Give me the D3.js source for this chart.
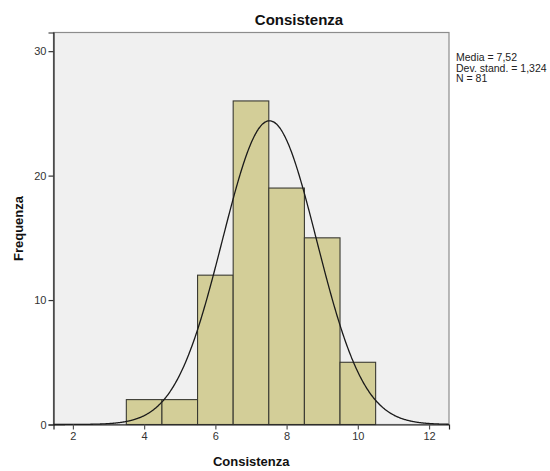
<!DOCTYPE html>
<html>
<head>
<meta charset="utf-8">
<script src="https://cdn.jsdelivr.net/npm/d3@7"></script>
<style>
  html, body { margin: 0; padding: 0; background: #ffffff; }
  svg { display: block; font-family: Arial, "Liberation Sans", sans-serif; }
</style>
</head>
<body>
<svg id="chart" width="550" height="471"></svg>
<script>
// Histogram bins (lower edge, upper edge) and frequencies
const binStarts = [3.5, 4.5, 5.5, 6.5, 7.5, 8.5, 9.5];
const binEnds   = [4.5, 5.5, 6.5, 7.5, 8.5, 9.5, 10.5];
const counts    = [2, 2, 12, 26, 19, 15, 5];

// Summary statistics shown in the side legend
const mean = 7.52;
const sd = 1.324;
const n = 81;

const xTicks = [2, 4, 6, 8, 10, 12];
const yTicks = [0, 10, 20, 30];
const statLines = ["Media = 7,52", "Dev. stand. = 1,324", "N = 81"];

const svg = d3.select("#chart");

const plot = { left: 53.5, right: 449, top: 32.5, bottom: 424.5 };

const x = d3.scaleLinear().domain([1.455, 12.56]).range([plot.left, plot.right]);
const y = d3.scaleLinear().domain([0, 31.5]).range([plot.bottom, plot.top]);

// Plot background and frame
svg.append("rect")
  .attr("x", plot.left).attr("y", plot.top)
  .attr("width", plot.right - plot.left).attr("height", plot.bottom - plot.top)
  .attr("fill", "#f0f0f0")
  .attr("stroke", "#8c8c8c").attr("stroke-width", 1.2);

// Bars
const bins = binStarts.map((s, i) => ({ x0: s, x1: binEnds[i], count: counts[i] }));
svg.append("g").selectAll("rect")
  .data(bins)
  .join("rect")
  .attr("x", d => x(d.x0))
  .attr("y", d => y(d.count))
  .attr("width", d => x(d.x1) - x(d.x0))
  .attr("height", d => y(0) - y(d.count))
  .attr("fill", "#d3ce98")
  .attr("stroke", "#3a3a32")
  .attr("stroke-width", 1.1);

// Normal curve scaled to the histogram (n * bin width * density)
const binWidth = 1;
const curveX = d3.range(1.455, 12.56, 0.02);
const density = v => n * binWidth * Math.exp(-0.5 * ((v - mean) / sd) ** 2) / (sd * Math.sqrt(2 * Math.PI));
const line = d3.line().x(v => x(v)).y(v => y(density(v))).curve(d3.curveBasis);
svg.append("path")
  .datum(curveX)
  .attr("d", line)
  .attr("fill", "none")
  .attr("stroke", "#1a1a1a")
  .attr("stroke-width", 1.3);

// Axes
const yAxis = d3.axisLeft(y).tickValues(yTicks).tickSize(5).tickPadding(2).tickFormat(d3.format("d"));
const gy = svg.append("g").attr("transform", `translate(${plot.left},0)`).call(yAxis);
gy.select(".domain").attr("stroke", "#222").attr("stroke-width", 1.2);
gy.selectAll(".tick line").attr("stroke", "#333").attr("stroke-width", 1.2);
gy.selectAll(".tick text").attr("font-size", 11).attr("fill", "#333").attr("font-family", "Arial, 'Liberation Sans', sans-serif");

const xAxis = d3.axisBottom(x).tickValues(xTicks).tickSize(5).tickPadding(3).tickFormat(d3.format("d"));
const gx = svg.append("g").attr("transform", `translate(0,${plot.bottom})`).call(xAxis);
gx.select(".domain").attr("stroke", "#222").attr("stroke-width", 1.2);
gx.selectAll(".tick line").attr("stroke", "#555").attr("stroke-width", 1.2);
gx.selectAll(".tick text").attr("font-size", 11).attr("fill", "#333").attr("font-family", "Arial, 'Liberation Sans', sans-serif");

// Title and axis labels
svg.append("text")
  .attr("x", 299).attr("y", 25)
  .attr("text-anchor", "middle")
  .attr("font-size", 15).attr("font-weight", "bold").attr("fill", "#111")
  .text("Consistenza");

svg.append("text")
  .attr("x", (plot.left + plot.right) / 2).attr("y", 466)
  .attr("text-anchor", "middle")
  .attr("font-size", 13).attr("font-weight", "bold").attr("fill", "#111")
  .text("Consistenza");

svg.append("text")
  .attr("transform", `translate(23,${(plot.top + plot.bottom) / 2}) rotate(-90)`)
  .attr("text-anchor", "middle")
  .attr("font-size", 13).attr("font-weight", "bold").attr("fill", "#111")
  .text("Frequenza");

// Summary statistics
svg.append("g").selectAll("text")
  .data(statLines)
  .join("text")
  .attr("x", 456)
  .attr("y", (d, i) => 61 + i * 10.5)
  .attr("font-size", 10.5).attr("fill", "#222")
  .text(d => d);
</script>
</body>
</html>
